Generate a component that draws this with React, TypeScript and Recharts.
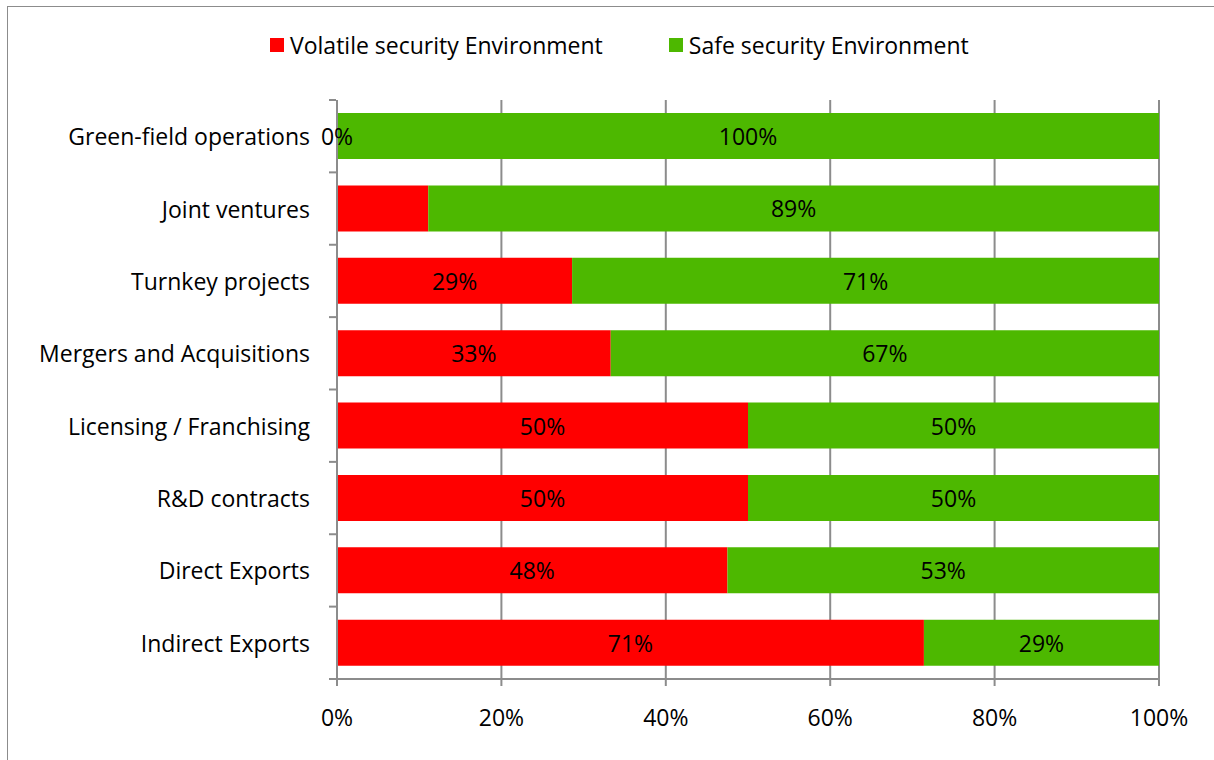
import React from 'react';
import {
  BarChart,
  Bar,
  XAxis,
  YAxis,
  CartesianGrid,
  LabelList,
} from 'recharts';

const categories = [
  'Green-field operations',
  'Joint ventures',
  'Turnkey projects',
  'Mergers and Acquisitions',
  'Licensing / Franchising',
  'R&D contracts',
  'Direct Exports',
  'Indirect Exports',
];
const volatileValues = [0, 11.1, 28.6, 33.3, 50, 50, 47.5, 71.4];
const safeValues = [100, 88.9, 71.4, 66.7, 50, 50, 52.5, 28.6];
// the source chart shows no data label on this red segment
const hiddenVolatileLabels = ['Joint ventures'];
const xTicks = [0, 20, 40, 60, 80, 100];

const RED = '#ff0000';
const GREEN = '#4db800';
const GRID = '#8c8c8c';
const FONT = '"Open Sans", Lato, sans-serif';
const FONT_SIZE = 23;

const data = categories.map((name, i) => ({
  name,
  volatile: volatileValues[i],
  safe: safeValues[i],
  volatileLabel: hiddenVolatileLabels.includes(name) ? '' : pct(volatileValues[i]),
}));

function pct(v: number) {
  return `${Math.round(v)}%`;
}

function CategoryTick(props: any) {
  const { x, y, payload, index, visibleTicksCount } = props;
  const half = payload.offset || 0;
  const axisX = x + 7;
  return (
    <g>
      <line x1={axisX - 7} x2={axisX} y1={y - half} y2={y - half} stroke={GRID} strokeWidth={2} />
      {index === visibleTicksCount - 1 && (
        <line x1={axisX - 7} x2={axisX} y1={y + half} y2={y + half} stroke={GRID} strokeWidth={2} />
      )}
      <text
        x={axisX - 26}
        y={y}
        textAnchor="end"
        dominantBaseline="central"
        fontFamily={FONT}
        fontSize={FONT_SIZE}
        fill="#000"
      >
        {payload.value}
      </text>
    </g>
  );
}

function BarText({ x, y, text }: { x: number; y: number; text: string }) {
  return (
    <text
      x={x}
      y={y}
      textAnchor="middle"
      dominantBaseline="central"
      fontFamily={FONT}
      fontSize={FONT_SIZE}
      fill="#000"
    >
      {text}
    </text>
  );
}

function VolatileLabel(props: any) {
  const { x, y, width, height, value } = props;
  if (!value) return null;
  return <BarText x={x + width / 2} y={y + height / 2} text={value} />;
}

// zero-width red segments are not drawn, so their "0%" label rides on the green bar
function SafeLabel(props: any) {
  const { x, y, width, height, value, index } = props;
  const row = data[index];
  return (
    <g>
      <BarText x={x + width / 2} y={y + height / 2} text={pct(value)} />
      {row && row.volatile === 0 && <BarText x={x} y={y + height / 2} text={row.volatileLabel} />}
    </g>
  );
}

function LegendItem({ color, text }: { color: string; text: string }) {
  return (
    <div style={{ display: 'flex', alignItems: 'center' }}>
      <div style={{ width: 14, height: 14, background: color, marginRight: 6 }} />
      <span>{text}</span>
    </div>
  );
}

export default function App() {
  return (
    <div style={{ position: 'absolute', left: 0, top: 0, width: 1214, height: 760, background: '#fff' }}>
      <div style={{ position: 'absolute', left: 7, top: 6, width: 1207, height: 1, background: GRID }} />
      <div style={{ position: 'absolute', left: 7, top: 6, width: 1, height: 754, background: GRID }} />
      <div
        style={{
          position: 'absolute',
          left: 270,
          top: 29,
          display: 'flex',
          gap: 66,
          fontFamily: FONT,
          fontSize: FONT_SIZE,
          color: '#000',
        }}
      >
        <LegendItem color={RED} text="Volatile security Environment" />
        <LegendItem color={GREEN} text="Safe security Environment" />
      </div>
      <div style={{ position: 'absolute', left: 0, top: 0 }}>
        <BarChart
          width={1214}
          height={760}
          data={data}
          layout="vertical"
          margin={{ top: 100, right: 55, bottom: 21, left: 0 }}
          barCategoryGap="18%"
        >
          <CartesianGrid vertical horizontal={false} stroke={GRID} strokeWidth={2} />
          <XAxis
            type="number"
            domain={[0, 100]}
            ticks={xTicks}
            tickFormatter={pct}
            height={60}
            tickSize={7}
            tickMargin={24}
            axisLine={{ stroke: GRID, strokeWidth: 2 }}
            tickLine={{ stroke: GRID, strokeWidth: 2 }}
            tick={{ fontFamily: FONT, fontSize: FONT_SIZE, fill: '#000' }}
          />
          <YAxis
            type="category"
            dataKey="name"
            width={337}
            tickLine={false}
            axisLine={{ stroke: GRID, strokeWidth: 2 }}
            tick={<CategoryTick />}
            interval={0}
          />
          <Bar dataKey="volatile" stackId="a" fill={RED} isAnimationActive={false}>
            <LabelList dataKey="volatileLabel" content={<VolatileLabel />} />
          </Bar>
          <Bar dataKey="safe" stackId="a" fill={GREEN} isAnimationActive={false}>
            <LabelList dataKey="safe" content={<SafeLabel />} />
          </Bar>
        </BarChart>
      </div>
    </div>
  );
}
